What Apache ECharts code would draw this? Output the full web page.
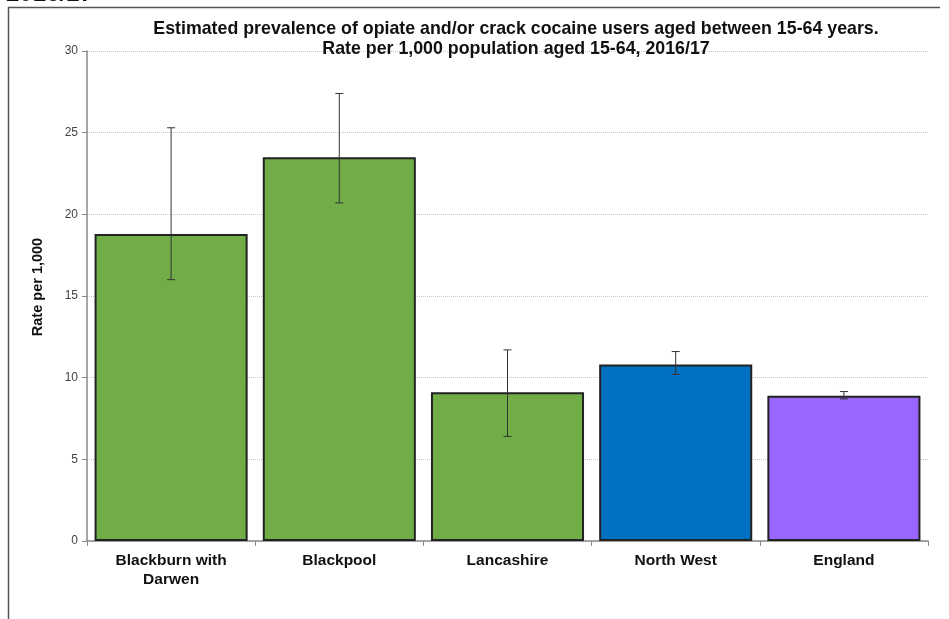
<!DOCTYPE html>
<html><head><meta charset="utf-8">
<script src="https://cdn.jsdelivr.net/npm/echarts@6/dist/echarts.min.js"></script>
<style>html,body{margin:0;padding:0;background:#fff}#c{width:949px;height:619px}</style>
</head><body><div id="c"></div>
<script>
const categories = ['Blackburn with\nDarwen', 'Blackpool', 'Lancashire', 'North West', 'England'];
const rates = [18.8, 23.5, 9.1, 10.8, 8.9];
const lowerCI = [16.0, 20.7, 6.4, 10.2, 8.7];
const upperCI = [25.3, 27.4, 11.7, 11.6, 9.15];
const barColors = ['#70AD47', '#70AD47', '#70AD47', '#0070C0', '#9966FF'];

const chart = echarts.init(document.getElementById('c'));
const font = '"Liberation Sans", Arial, sans-serif';
chart.setOption({
  animation: false,
  backgroundColor: '#fff',
  textStyle: { fontFamily: font },
  title: {
    text: 'Estimated prevalence of opiate and/or crack cocaine users aged between 15-64 years.\nRate per 1,000 population aged 15-64, 2016/17',
    left: 511, top: 14, textAlign: 'center',
    textStyle: { fontFamily: font, fontSize: 17.8, fontWeight: 'bold', color: '#111', lineHeight: 20 }
  },
  graphic: [
    { type: 'text', x: 6, y: 6, style: { text: '2016/17', font: 'bold 24px "Liberation Sans", Arial', fill: '#111', verticalAlign: 'bottom' } },
    { type: 'line', shape: { x1: 8, y1: 7.5, x2: 940, y2: 7.5 }, style: { stroke: '#555', lineWidth: 1.5 } },
    { type: 'line', shape: { x1: 8.5, y1: 7, x2: 8.5, y2: 619 }, style: { stroke: '#555', lineWidth: 1.5 } },
    { type: 'text', x: 38, y: 287, rotation: Math.PI / 2, style: { text: 'Rate per 1,000', font: 'bold 14.5px "Liberation Sans", Arial', fill: '#111', align: 'center', verticalAlign: 'middle' } }
  ],
  grid: { left: 87, right: 21, top: 51, bottom: 78, containLabel: false },
  xAxis: {
    type: 'category', data: categories,
    axisLine: { lineStyle: { color: '#888', width: 1.5 } },
    axisTick: { show: true, length: 5, lineStyle: { color: '#888' } },
    axisLabel: { fontSize: 15.5, fontWeight: 'bold', color: '#111', margin: 10, lineHeight: 19, fontFamily: font }
  },
  yAxis: {
    type: 'value', min: 0, max: 30, interval: 5,
    axisLine: { show: true, lineStyle: { color: '#888', width: 1.5 } },
    axisTick: { show: true, length: 5, inside: false, lineStyle: { color: '#888' } },
    axisLabel: { fontSize: 12, color: '#444', margin: 9, fontFamily: font },
    splitLine: { lineStyle: { color: '#c8c8c8', type: 'dotted', width: 1 } }
  },
  series: [
    {
      type: 'bar', barCategoryGap: '9%',
      data: rates.map((v, i) => ({ value: v, itemStyle: { color: barColors[i] } })),
      itemStyle: { borderColor: '#222', borderWidth: 2 },
      z: 2
    },
    {
      type: 'custom', z: 5,
      data: categories.map((c, i) => [i, lowerCI[i], upperCI[i]]),
      renderItem: function (params, api) {
        const lo = api.coord([api.value(0), api.value(1)]);
        const hi = api.coord([api.value(0), api.value(2)]);
        const w = 4;
        const st = { stroke: '#333', lineWidth: 1 };
        return { type: 'group', children: [
          { type: 'line', shape: { x1: lo[0], y1: lo[1], x2: hi[0], y2: hi[1] }, style: st },
          { type: 'line', shape: { x1: lo[0] - w, y1: lo[1], x2: lo[0] + w, y2: lo[1] }, style: st },
          { type: 'line', shape: { x1: hi[0] - w, y1: hi[1], x2: hi[0] + w, y2: hi[1] }, style: st }
        ]};
      }
    }
  ]
});
</script></body></html>
